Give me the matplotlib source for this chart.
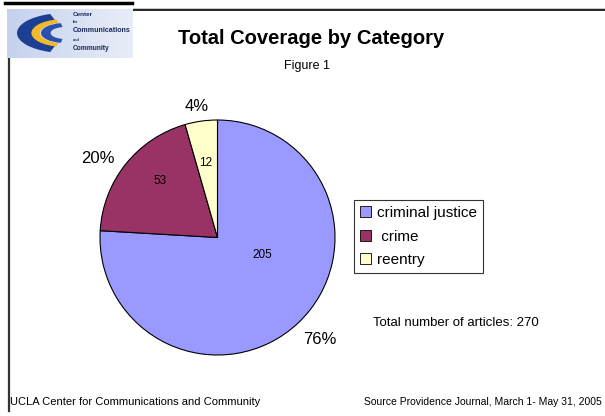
import numpy as np
import matplotlib
matplotlib.use("Agg")
import matplotlib.pyplot as plt
from matplotlib.patches import Wedge, Patch
from matplotlib.lines import Line2D

plt.rcParams['font.family'] = ['Liberation Sans', 'DejaVu Sans']

categories = ["criminal justice", " crime", "reentry"]
counts = [205, 53, 12]
percent_labels = ["76%", "20%", "4%"]
colours = ["#9999FF", "#993366", "#FFFFCC"]
total_label = "Total number of articles: 270"

W, H = 605, 416
fig = plt.figure(figsize=(W / 100, H / 100), dpi=100)

# overlay axes in pixel coords (y down)
bg = fig.add_axes([0, 0, 1, 1])
bg.set_xlim(0, W)
bg.set_ylim(H, 0)
bg.axis("off")

# header rules and left rule
bg.add_line(Line2D([5, 132], [2.5, 2.5], color="black", lw=2.5))
bg.add_line(Line2D([133, 605], [9.5, 9.5], color="black", lw=1.2))
bg.add_line(Line2D([133, 605], [8, 8], color="#bbbbbb", lw=0.6))
bg.add_line(Line2D([8.5, 8.5], [57, 411], color="#333333", lw=1.6))

bg.text(311, 38, "Total Coverage by Category", fontsize=14.5, fontweight="bold",
        ha="center", va="center")
bg.text(307, 66, "Figure 1", fontsize=9, ha="center", va="center")
bg.text(373, 323, total_label, fontsize=9.5, ha="left", va="center")
bg.text(10, 402, "UCLA Center for Communications and Community", fontsize=8,
        ha="left", va="center")
bg.text(602, 402, "Source Providence Journal, March 1- May 31, 2005", fontsize=7.5,
        ha="right", va="center")

# logo, drawn in a box of its own (x stretched so the C is oval)
lx0, ly0, lw, lh = 7, 9, 126, 49
sx = 2.4
lg = fig.add_axes([lx0 / W, 1 - (ly0 + lh) / H, lw / W, lh / H])
lg.set_xlim(0, lw / sx)
lg.set_ylim(lh, 0)
lg.axis("off")
grad = np.linspace(0, 1, 128).reshape(1, -1)
lg.imshow(grad, extent=[0, lw / sx, lh, 0], aspect="auto",
          cmap=matplotlib.colors.LinearSegmentedColormap.from_list("lg", ["#c5d2ee", "#e8edf8"]))
c0 = (58 / sx, 24)
lg.add_patch(Wedge(c0, 20, 108, 252, width=7, facecolor="#1c3f94"))
lg.add_patch(Wedge(c0, 14, 105, 255, width=3.5, facecolor="#f2b926"))
lg.add_patch(Wedge(c0, 10, 100, 260, width=4, facecolor="#2a52ad"))
for txt, y, fs in [("Center", 6, 4.6), ("for", 13, 2.8), ("Communications", 22, 5.1),
                   ("and", 31, 2.8), ("Community", 39, 4.8)]:
    lg.text(66 / sx, y, txt, fontsize=fs, color="#1a2a5a", fontweight="bold", va="center")
lg.set_xlim(0, lw / sx)
lg.set_ylim(lh, 0)

# pie
cx, cy, r = 217.5, 237.5, 117.5
ax = fig.add_axes([(cx - r) / W, (H - cy - r) / H, 2 * r / W, 2 * r / H])
wedges, _ = ax.pie(counts, colors=colours, startangle=90, counterclock=False,
                   wedgeprops=dict(edgecolor="black", linewidth=0.8))
ax.set_xlim(-1, 1)
ax.set_ylim(-1, 1)
ax.set_aspect("auto")

# (radius, angle shift) of the number inside and the percent outside each slice
inner_pos = [(0.41, 25), (0.69, -6), (0.64, 1)]
outer_pos = [(1.23, 2), (1.22, 5), (1.13, 1)]
for w, n, pct, (ri, di), (ro, do) in zip(wedges, counts, percent_labels, inner_pos, outer_pos):
    mid = (w.theta1 + w.theta2) / 2
    a = np.deg2rad(mid + di)
    ax.text(ri * np.cos(a), ri * np.sin(a), str(n), fontsize=8.5, ha="center", va="center")
    b = np.deg2rad(mid + do)
    ax.text(ro * np.cos(b), ro * np.sin(b), pct, fontsize=12, ha="center", va="center")

handles = [Patch(facecolor=c, edgecolor="black", linewidth=0.6) for c in colours]
leg = fig.legend(handles, categories, loc="upper left",
                 bbox_to_anchor=(354 / W, 1 - 200 / H), fontsize=11,
                 frameon=True, fancybox=False, edgecolor="black",
                 handlelength=0.7, handleheight=0.7, handletextpad=0.4,
                 labelspacing=0.62, borderpad=0.4, borderaxespad=0)
leg.get_frame().set_linewidth(0.8)

fig.savefig("out.png", dpi=100)
